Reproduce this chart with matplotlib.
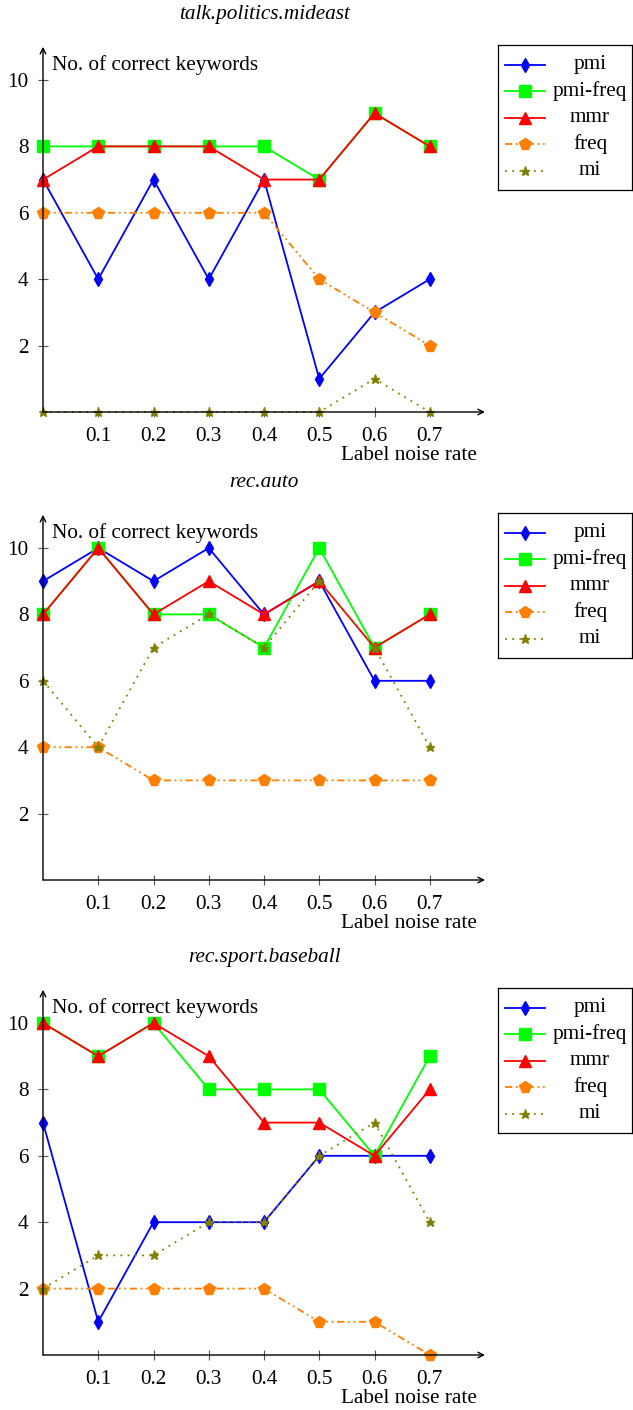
import matplotlib
matplotlib.use("Agg")
import matplotlib.pyplot as plt

plt.rcParams['font.family'] = ['Liberation Serif', 'DejaVu Serif']

# noise rates
x = [0.0, 0.1, 0.2, 0.3, 0.4, 0.5, 0.6, 0.7]

titles = ['talk.politics.mideast', 'rec.auto', 'rec.sport.baseball']
methods = ['pmi', 'pmi-freq', 'mmr', 'freq', 'mi']

# talk.politics.mideast
mideast_pmi = [7, 4, 7, 4, 7, 1, 3, 4]
mideast_pmifreq = [8, 8, 8, 8, 8, 7, 9, 8]
mideast_mmr = [7, 8, 8, 8, 7, 7, 9, 8]
mideast_freq = [6, 6, 6, 6, 6, 4, 3, 2]
mideast_mi = [0, 0, 0, 0, 0, 0, 1, 0]

# rec.auto
auto_pmi = [9, 10, 9, 10, 8, 9, 6, 6]
auto_pmifreq = [8, 10, 8, 8, 7, 10, 7, 8]
auto_mmr = [8, 10, 8, 9, 8, 9, 7, 8]
auto_freq = [4, 4, 3, 3, 3, 3, 3, 3]
auto_mi = [6, 4, 7, 8, 7, 9, 7, 4]

# rec.sport.baseball
baseball_pmi = [7, 1, 4, 4, 4, 6, 6, 6]
baseball_pmifreq = [10, 9, 10, 8, 8, 8, 6, 9]
baseball_mmr = [10, 9, 10, 9, 7, 7, 6, 8]
baseball_freq = [2, 2, 2, 2, 2, 1, 1, 0]
baseball_mi = [2, 3, 3, 4, 4, 6, 7, 4]

datos = [
    [mideast_pmi, mideast_pmifreq, mideast_mmr, mideast_freq, mideast_mi],
    [auto_pmi, auto_pmifreq, auto_mmr, auto_freq, auto_mi],
    [baseball_pmi, baseball_pmifreq, baseball_mmr, baseball_freq, baseball_mi],
]

xticks = [0.1, 0.2, 0.3, 0.4, 0.5, 0.6, 0.7]
yticks = [2, 4, 6, 8, 10]

# estilos tipo pgfplots
estilos = [
    dict(color='#0000ff', marker='d', ms=7.5, linestyle='-'),
    dict(color='#00ff00', marker='s', ms=8.5, linestyle='-'),
    dict(color='#ff0000', marker='^', ms=8.5, linestyle='-'),
    dict(color='#ff8000', marker='p', ms=8.5, linestyle=(0, (4, 2, 1, 2, 1, 2))),
    dict(color='#808000', marker='*', ms=6.5, linestyle=(0, (1, 3))),
]

W, H = 633, 1410
fig = plt.figure(figsize=(W / 100, H / 100), dpi=100)

fs = 15.3
# pixel y del valor 0 en cada panel
bases = [412, 880, 1355]
unit = 33.2
left_px = 43
xw_px = 442

for k in range(3):
    y0 = bases[k]
    top = y0 - 11 * unit
    ax = fig.add_axes([left_px / W, 1 - y0 / H, xw_px / W, (y0 - top) / H])
    for serie, st in zip(datos[k], estilos):
        ax.plot(x, serie, color=st['color'], marker=st['marker'], ms=st['ms'],
                linestyle=st['linestyle'], lw=1.3, mec=st['color'], clip_on=False, zorder=3)
    ax.set_xlim(0, 0.8)
    ax.set_ylim(0, 11)
    for s in ax.spines.values():
        s.set_visible(False)
    ax.annotate('', xy=(1, 0), xytext=(0, 0), xycoords='axes fraction',
                arrowprops=dict(arrowstyle='->', color='black', lw=1.0, shrinkA=0, shrinkB=0))
    ax.annotate('', xy=(0, 1), xytext=(0, 0), xycoords='axes fraction',
                arrowprops=dict(arrowstyle='->', color='black', lw=1.0, shrinkA=0, shrinkB=0))
    ax.set_xticks(xticks)
    ax.set_xticklabels([str(v) for v in xticks])
    ax.set_yticks(yticks)
    ax.tick_params(direction='inout', length=7, width=0.8, color='#555555',
                   labelsize=fs, pad=7)
    ax.set_title(titles[k], fontsize=fs, style='italic', pad=20)
    ax.text(0.02, 0.977, 'No. of correct keywords', transform=ax.transAxes,
            ha='left', va='top', fontsize=fs)
    ax.text(0.982, -0.118, 'Label noise rate', transform=ax.transAxes,
            ha='right', va='center', fontsize=fs)

    # leyenda estilo pgfplots (texto centrado)
    lx0, lx1 = 498, 632
    ly0 = top - 2
    ly1 = ly0 + 145
    lax = fig.add_axes([lx0 / W, 1 - ly1 / H, (lx1 - lx0) / W, (ly1 - ly0) / H])
    lax.set_xlim(lx0, lx1)
    lax.set_ylim(ly1, ly0)
    lax.set_xticks([])
    lax.set_yticks([])
    for s in lax.spines.values():
        s.set_linewidth(0.9)
    for i, (nombre, st) in enumerate(zip(methods, estilos)):
        yy = ly0 + 20 + i * 26.5
        lax.plot([505, 545], [yy, yy], color=st['color'], linestyle=st['linestyle'], lw=1.3)
        lax.plot([525], [yy], color=st['color'], marker=st['marker'], ms=st['ms'], mec=st['color'])
        lax.text(590, yy, nombre, ha='center', va='center', fontsize=fs)

fig.savefig('out.png', dpi=100)
